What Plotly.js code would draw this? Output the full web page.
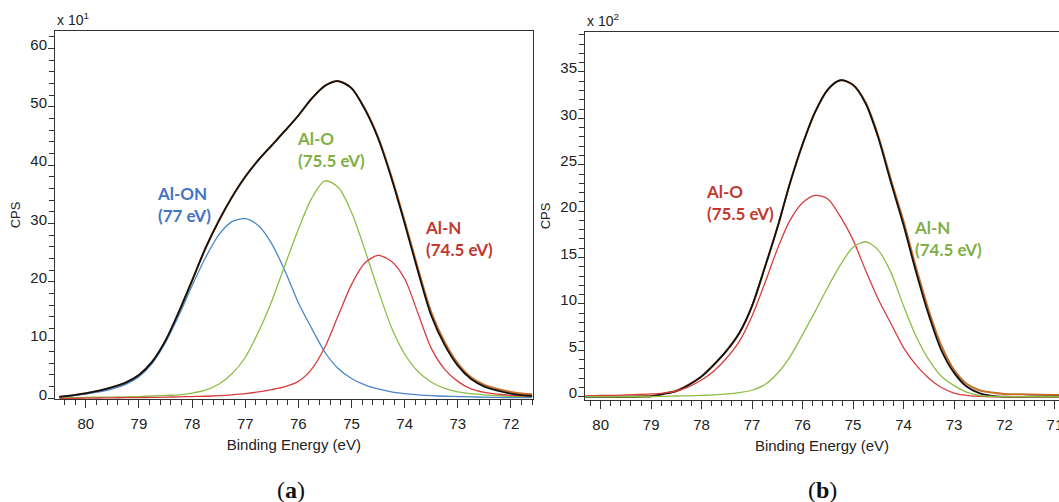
<!DOCTYPE html>
<html>
<head>
<meta charset="utf-8">
<script src="https://cdn.plot.ly/plotly-3.0.1.min.js"></script>
<style>html,body{margin:0;padding:0;background:#fff;}#chart{width:1059px;height:502px;}</style>
</head>
<body>
<div id="chart"></div>
<script>
// ---------- Panel (a): binding energy (eV) and CPS (x 10^1) ----------
const energyA = [80.5, 80.25, 80.0, 79.75, 79.5, 79.25, 79.0, 78.75, 78.5, 78.25, 78.0, 77.75, 77.5, 77.25, 77.0, 76.75, 76.5, 76.25, 76.0, 75.75, 75.5, 75.25, 75.0, 74.75, 74.5, 74.25, 74.0, 73.75, 73.5, 73.25, 73.0, 72.75, 72.5, 72.25, 72.0, 71.75, 71.6];
const alONA = [0.2, 0.45, 0.75, 1.1, 1.6, 2.4, 3.7, 6.0, 9.6, 14.2, 19.3, 24.1, 28.0, 30.3, 30.8, 29.6, 26.5, 21.8, 16.4, 12.0, 7.9, 5.1, 3.4, 2.3, 1.6, 1.1, 0.8, 0.6, 0.45, 0.35, 0.3, 0.25, 0.2, 0.15, 0.12, 0.1, 0.1];
const alOA = [0.1, 0.1, 0.15, 0.2, 0.2, 0.25, 0.3, 0.4, 0.5, 0.6, 0.9, 1.4, 2.4, 4.2, 7.0, 11.4, 16.7, 22.9, 29.0, 34.3, 37.3, 36.2, 31.9, 25.5, 18.6, 12.2, 7.6, 4.6, 2.8, 1.7, 1.1, 0.8, 0.6, 0.45, 0.35, 0.3, 0.3];
const alNA = [0.0, 0.0, 0.02, 0.05, 0.08, 0.1, 0.12, 0.15, 0.2, 0.25, 0.3, 0.35, 0.45, 0.6, 0.8, 1.1, 1.5, 2.0, 2.9, 5.0, 8.8, 14.2, 19.5, 23.2, 24.5, 23.5, 20.5, 14.6, 8.6, 5.0, 2.9, 1.6, 1.0, 0.7, 0.5, 0.4, 0.35];
const envelopeA = [0.25, 0.5, 0.85, 1.3, 1.9, 2.7, 4.0, 6.3, 9.9, 14.8, 20.2, 25.7, 30.4, 34.5, 38.0, 40.9, 43.4, 45.9, 48.5, 51.4, 53.6, 54.4, 53.2, 49.6, 44.6, 37.8, 30.0, 21.8, 14.2, 9.2, 5.6, 3.3, 2.0, 1.3, 0.8, 0.5, 0.4];
const measuredA = [0.25, 0.5, 0.85, 1.3, 1.9, 2.7, 4.0, 6.3, 9.9, 14.8, 20.2, 25.7, 30.4, 34.5, 38.0, 40.9, 43.4, 45.9, 48.5, 51.4, 53.6, 54.4, 53.2, 49.7, 44.8, 38.1, 30.4, 22.3, 14.8, 9.7, 6.0, 3.6, 2.3, 1.6, 1.1, 0.8, 0.7];

// ---------- Panel (b): binding energy (eV) and CPS (x 10^2) ----------
const energyB = [80.3, 80.0, 79.75, 79.5, 79.25, 79.0, 78.75, 78.5, 78.25, 78.0, 77.75, 77.5, 77.25, 77.0, 76.75, 76.5, 76.25, 76.0, 75.75, 75.5, 75.25, 75.0, 74.75, 74.5, 74.25, 74.0, 73.75, 73.5, 73.25, 73.0, 72.75, 72.5, 72.25, 72.0, 71.5, 71.0, 70.9];
const alOB = [0.1, 0.15, 0.15, 0.2, 0.25, 0.3, 0.4, 0.6, 1.1, 1.8, 2.8, 4.2, 6.0, 8.7, 12.2, 15.9, 19.0, 20.9, 21.7, 21.3, 19.4, 16.9, 13.6, 10.5, 7.9, 5.3, 3.4, 2.0, 1.0, 0.4, 0.15, 0.05, 0.0, 0.0, 0.0, 0.0, 0.0];
const alNB = [0.0, 0.0, 0.0, 0.0, 0.0, 0.02, 0.05, 0.08, 0.1, 0.15, 0.2, 0.3, 0.45, 0.7, 1.3, 2.5, 4.3, 6.7, 9.2, 11.8, 14.2, 16.1, 16.7, 15.8, 13.4, 9.8, 6.5, 4.0, 2.2, 1.2, 0.5, 0.15, 0.05, 0.02, 0.0, 0.0, 0.0];
const envelopeB = [0.0, 0.0, 0.0, 0.0, 0.0, 0.05, 0.3, 0.6, 1.3, 2.2, 3.5, 5.0, 6.9, 9.8, 13.9, 18.2, 23.0, 27.2, 30.7, 33.1, 34.1, 33.6, 31.6, 27.9, 23.1, 18.5, 13.4, 8.8, 5.0, 2.6, 1.1, 0.4, 0.1, 0.0, 0.0, 0.0, 0.0];
const measuredB = [0.0, 0.0, 0.0, 0.0, 0.05, 0.1, 0.35, 0.65, 1.3, 2.2, 3.5, 5.0, 6.9, 9.8, 13.9, 18.2, 23.0, 27.2, 30.7, 33.1, 34.1, 33.6, 31.7, 28.1, 23.4, 18.9, 13.9, 9.3, 5.5, 2.9, 1.4, 0.7, 0.45, 0.3, 0.25, 0.2, 0.2];

// ---------- Peak labels ----------
const labelsA = [
  {text: 'Al-ON<br>(77 eV)', x: 78.70, y: 33.3, color: '#4472C4'},
  {text: 'Al-O<br>(75.5 eV)', x: 76.06, y: 42.7, color: '#7FAF46'},
  {text: 'Al-N<br>(74.5 eV)', x: 73.65, y: 27.4, color: '#C0392F'}
];
const labelsB = [
  {text: 'Al-O<br>(75.5 eV)', x: 77.95, y: 20.9, color: '#C0392F'},
  {text: 'Al-N<br>(74.5 eV)', x: 73.84, y: 17.1, color: '#7FAF46'}
];

const C_BLUE = 'rgb(74,134,200)';
const C_GREEN = 'rgb(140,190,70)';
const C_RED = 'rgb(214,62,62)';
const C_RAW = 'rgb(200,110,40)';

function line(x, y, color, width, xa, ya) {
  return {x: x, y: y, type: 'scatter', mode: 'lines', xaxis: xa, yaxis: ya,
          line: {color: color, width: width, shape: 'spline', smoothing: 0.8},
          hoverinfo: 'skip', showlegend: false};
}

const traces = [
  line(energyA, measuredA, C_RAW, 2, 'x', 'y'),
  line(energyA, alONA, C_BLUE, 1.3, 'x', 'y'),
  line(energyA, alOA, C_GREEN, 1.3, 'x', 'y'),
  line(energyA, alNA, C_RED, 1.3, 'x', 'y'),
  line(energyA, envelopeA, '#111', 1.8, 'x', 'y'),
  line(energyB, measuredB, C_RAW, 2, 'x2', 'y2'),
  line(energyB, envelopeB, '#111', 1.8, 'x2', 'y2'),
  line(energyB, alOB, C_RED, 1.3, 'x2', 'y2'),
  line(energyB, alNB, C_GREEN, 1.3, 'x2', 'y2')
];

const W = 1059, H = 502;
const tickFont = {family: 'Liberation Sans, Arial, sans-serif', size: 15, color: '#222'};
const xTitleFont = {family: 'Liberation Sans, Arial, sans-serif', size: 15, color: '#222'};
const yTitleFont = {family: 'Liberation Sans, Arial, sans-serif', size: 13, color: '#222'};
const expFont = {family: 'Liberation Sans, Arial, sans-serif', size: 14, color: '#222'};

function xAxis(domain, range, anchor, mirror) {
  return {domain: domain, range: range, anchor: anchor, dtick: 1, tick0: 0,
    ticks: 'outside', ticklen: 8, tickwidth: 1, tickcolor: '#333',
    minor: {dtick: 0.2, ticks: 'outside', ticklen: 5, tickwidth: 1, tickcolor: '#333', showgrid: false},
    showline: true, linecolor: '#333', linewidth: 1, mirror: mirror,
    showgrid: false, zeroline: false, tickfont: tickFont, ticklabeloverflow: 'allow',
    ticklabelstandoff: 3,
    title: {text: 'Binding Energy (eV)', font: xTitleFont, standoff: 8}};
}
function yAxis(domain, range, anchor, dtick, minorDtick, mirror) {
  return {domain: domain, range: range, anchor: anchor, dtick: dtick, tick0: 0,
    ticks: 'outside', ticklen: 6, tickwidth: 1, tickcolor: '#333',
    minor: {dtick: minorDtick, ticks: 'outside', ticklen: 5, tickwidth: 1, tickcolor: '#333', showgrid: false},
    showline: true, linecolor: '#333', linewidth: 1, mirror: mirror,
    showgrid: false, zeroline: false, tickfont: tickFont, ticklabelshift: -4, ticklabelstandoff: -2,
    ticklabeloverflow: 'allow',
    title: {text: 'CPS', font: yTitleFont, standoff: 6}};
}

const annotations = [];
function addLabels(list, xref, yref) {
  list.forEach(function (l) {
    annotations.push({text: '<b>' + l.text + '</b>', x: l.x, y: l.y, xref: xref, yref: yref,
      xanchor: 'left', yanchor: 'middle', align: 'left', showarrow: false,
      font: {family: 'Lato, Open Sans, sans-serif', size: 17, color: l.color}});
  });
}
addLabels(labelsA, 'x', 'y');
addLabels(labelsB, 'x2', 'y2');

annotations.push({text: 'x 10<sup>1</sup>', xref: 'paper', yref: 'paper', x: 55 / W, y: (H - 30) / H,
  xanchor: 'left', yanchor: 'bottom', showarrow: false, font: expFont});
annotations.push({text: 'x 10<sup>2</sup>', xref: 'paper', yref: 'paper', x: 585 / W, y: (H - 31) / H,
  xanchor: 'left', yanchor: 'bottom', showarrow: false, font: expFont});
annotations.push({text: '(<b>a</b>)', xref: 'paper', yref: 'paper', x: 291 / W, y: 12 / H,
  xanchor: 'center', yanchor: 'middle', showarrow: false,
  font: {family: 'Liberation Serif, DejaVu Serif, serif', size: 24, color: '#111'}});
annotations.push({text: '(<b>b</b>)', xref: 'paper', yref: 'paper', x: 822 / W, y: 12 / H,
  xanchor: 'center', yanchor: 'middle', showarrow: false,
  font: {family: 'Liberation Serif, DejaVu Serif, serif', size: 24, color: '#111'}});

const layout = {
  width: W, height: H,
  margin: {l: 0, r: 0, t: 0, b: 0},
  paper_bgcolor: '#fff', plot_bgcolor: '#fff',
  showlegend: false,
  xaxis: xAxis([55 / W, 532.7 / W], [80.58, 71.59], 'y', true),
  yaxis: yAxis([103 / H, 471 / H], [-0.12, 63.0], 'x', 10, 2, true),
  xaxis2: xAxis([585 / W, 1], [80.31, 70.92], 'y2', true),
  yaxis2: yAxis([102 / H, 470 / H], [-0.35, 39.3], 'x2', 5, 1, false),
  annotations: annotations
};

Plotly.newPlot('chart', traces, layout, {displayModeBar: false, staticPlot: true});
</script>
</body>
</html>
